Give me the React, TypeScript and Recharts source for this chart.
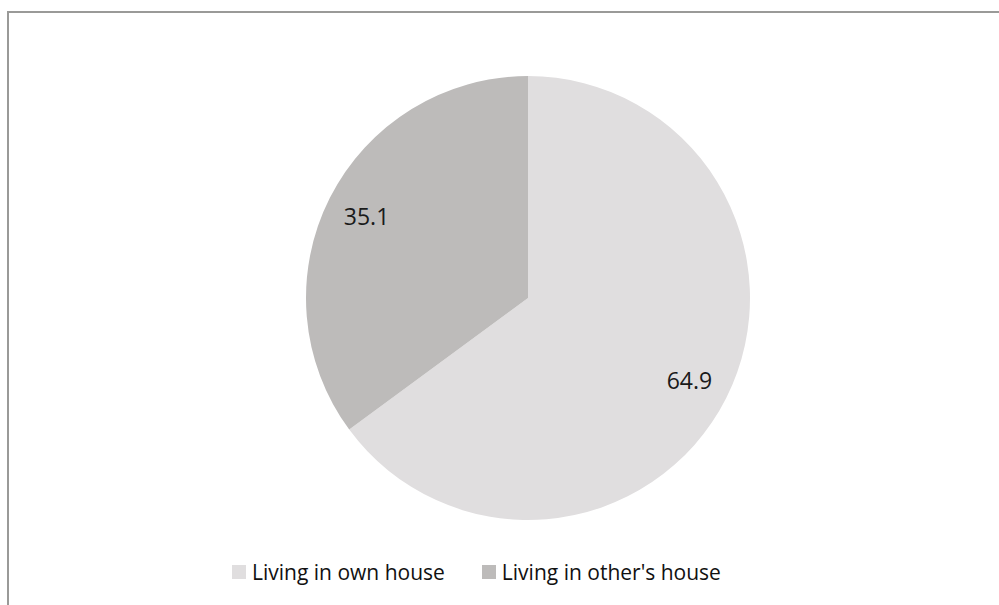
import { Legend, Pie, PieChart, Cell } from "recharts";

const categories = ["Living in own house", "Living in other's house"];
const shares = [64.9, 35.1];
const sliceColors = ["#E0DEDF", "#BDBBBA"];

const data = categories.map((name, i) => ({ name, value: shares[i], color: sliceColors[i] }));

const FONT = "'Open Sans', 'Noto Sans', sans-serif";
const RADIAN = Math.PI / 180;

// labels sit inside each slice, roughly 4/5 of the way out
function renderLabel(props: any) {
  const { cx, cy, midAngle, outerRadius, value } = props;
  const r = outerRadius * 0.815;
  const x = cx + r * Math.cos(-midAngle * RADIAN);
  const y = cy + r * Math.sin(-midAngle * RADIAN);
  return (
    <text x={x} y={y} fill="#1a1a1a" textAnchor="middle" dominantBaseline="central" fontSize={23} fontFamily={FONT}>
      {value.toFixed(1)}
    </text>
  );
}

function LegendContent() {
  return (
    <div style={{ display: "flex", alignItems: "center", gap: 37, fontFamily: FONT, fontSize: 21, color: "#111" }}>
      {data.map((d) => (
        <span key={d.name} style={{ display: "flex", alignItems: "center", gap: 6 }}>
          <span style={{ width: 14, height: 14, background: d.color, display: "inline-block" }} />
          {d.name}
        </span>
      ))}
    </div>
  );
}

export default function App() {
  return (
    <div style={{ position: "fixed", left: 0, top: 0, width: 999, height: 605, overflow: "hidden", background: "#fff" }}>
      {/* chart frame: only the top and left edges fall inside the picture */}
      <div style={{ position: "absolute", left: 7, top: 11, width: 1100, height: 800, border: "2px solid #9A9A98", boxSizing: "border-box" }} />
      <PieChart width={999} height={605} style={{ position: "absolute", left: 0, top: 0 }}>
        <Pie
          data={data}
          dataKey="value"
          nameKey="name"
          cx={523}
          cy={293}
          outerRadius={222}
          startAngle={90}
          endAngle={-270}
          stroke="none"
          label={renderLabel}
          labelLine={false}
          isAnimationActive={false}
        >
          {data.map((d) => (
            <Cell key={d.name} fill={d.color} />
          ))}
        </Pie>
        <Legend
          content={<LegendContent />}
          wrapperStyle={{ position: "absolute", left: 232, top: 558, width: "auto" }}
        />
      </PieChart>
    </div>
  );
}
